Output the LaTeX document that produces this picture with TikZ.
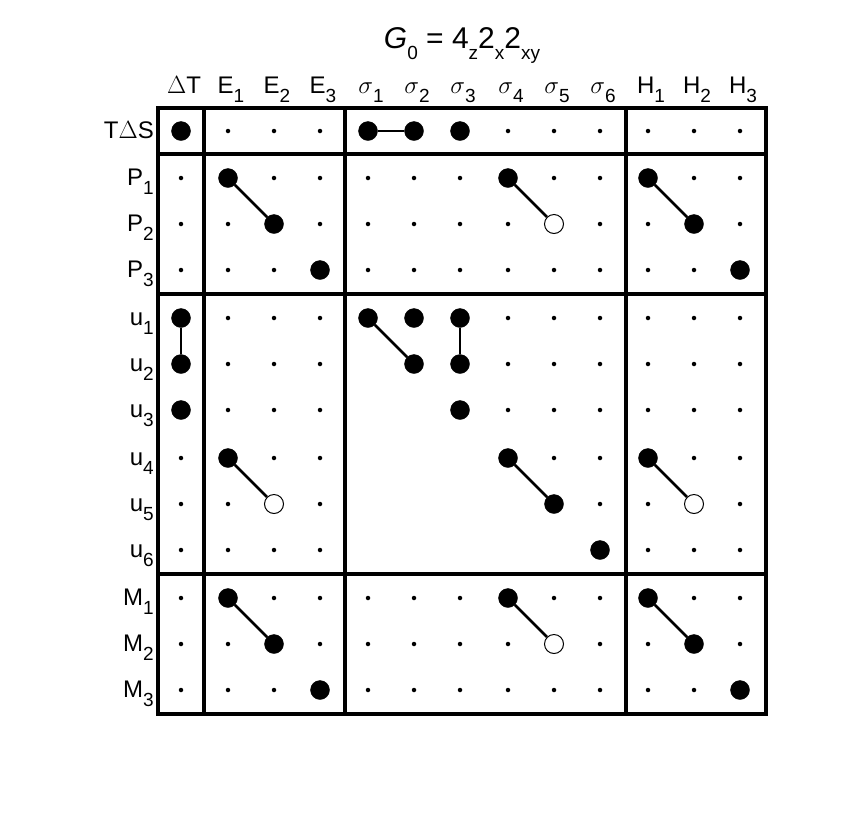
\documentclass[tikz,border=0pt]{standalone}
\usepackage{fontspec}
\setmainfont{Liberation Sans}
\newcommand{\lsub}[1]{\raisebox{-0.75ex}{\fontsize{19}{19}\selectfont #1}}
\begin{document}
\begin{tikzpicture}[x=1pt,y=-1pt,
  frame/.style={line width=3.5pt},
  link/.style={line width=2.5pt},
  big/.style={circle,fill=black,draw=black,minimum size=19pt,inner sep=0pt},
  open/.style={circle,fill=white,draw=black,line width=1pt,minimum size=19pt,inner sep=0pt},
  tiny/.style={circle,fill=black,minimum size=4.5pt,inner sep=0pt},
  lab/.style={font=\fontsize{24}{26}\selectfont}]
\useasboundingbox (0,0) rectangle (856,812);
\def\xs{{181,228,274,320,368,414,460,508,554,600,648,694,740}}
\def\ys{{131,178,224,270,318,364,410,458,504,550,598,644,690}}
\foreach \row [count=\r from 0] in {
 {b,t,t,t,b,b,b,t,t,t,t,t,t},
 {t,b,t,t,t,t,t,b,t,t,b,t,t},
 {t,t,b,t,t,t,t,t,o,t,t,b,t},
 {t,t,t,b,t,t,t,t,t,t,t,t,b},
 {b,t,t,t,b,b,b,t,t,t,t,t,t},
 {b,t,t,t,n,b,b,t,t,t,t,t,t},
 {b,t,t,t,n,n,b,t,t,t,t,t,t},
 {t,b,t,t,n,n,n,b,t,t,b,t,t},
 {t,t,o,t,n,n,n,n,b,t,t,o,t},
 {t,t,t,t,n,n,n,n,n,b,t,t,t},
 {t,b,t,t,t,t,t,b,t,t,b,t,t},
 {t,t,b,t,t,t,t,t,o,t,t,b,t},
 {t,t,t,b,t,t,t,t,t,t,t,t,b}}{
  \foreach \m [count=\c from 0] in \row {
    \pgfmathsetmacro{\px}{\xs[\c]}
    \pgfmathsetmacro{\py}{\ys[\r]}
    \if\m b \node[big] (d-\r-\c) at (\px,\py) {};\fi
    \if\m o \node[open] (d-\r-\c) at (\px,\py) {};\fi
    \if\m t \node[tiny] (d-\r-\c) at (\px,\py) {};\fi
  }
}
\foreach \a/\b in {0-4/0-5, 1-1/2-2, 1-7/2-8, 1-10/2-11, 4-0/5-0, 4-4/5-5, 4-6/5-6,
  7-1/8-2, 7-7/8-8, 7-10/8-11, 10-1/11-2, 10-7/11-8, 10-10/11-11}
  \draw[link] (d-\a) -- (d-\b);
\draw[frame] (158,108) rectangle (766,714);
\foreach \x in {204,345,626} \draw[frame] (\x,108) -- (\x,714);
\foreach \y in {154,294,574} \draw[frame] (158,\y) -- (766,\y);
\node[font=\fontsize{30}{32}\selectfont,anchor=base] (title) at (462,48) {\textit{G}\lsub{0} = 4\lsub{z}2\lsub{x}2\lsub{xy}};
\foreach \t [count=\c from 0] in {$\Delta$T, E\lsub{1}, E\lsub{2}, E\lsub{3},
  $\sigma$\lsub{1}, $\sigma$\lsub{2}, $\sigma$\lsub{3}, $\sigma$\lsub{4}, $\sigma$\lsub{5}, $\sigma$\lsub{6},
  H\lsub{1}, H\lsub{2}, H\lsub{3}} {
  \pgfmathsetmacro{\px}{\xs[\c]}
  \node[lab,anchor=base] (col-\c) at (\px+3,93) {\t};
}
\foreach \t [count=\r from 0] in {T$\Delta$S, P\lsub{1}, P\lsub{2}, P\lsub{3}, u\lsub{1}, u\lsub{2}, u\lsub{3},
  u\lsub{4}, u\lsub{5}, u\lsub{6}, M\lsub{1}, M\lsub{2}, M\lsub{3}} {
  \pgfmathsetmacro{\py}{\ys[\r]}
  \node[lab,anchor=base east,inner sep=0pt] (row-\r) at (154,\py+7) {\t};
}
\end{tikzpicture}
\end{document}
